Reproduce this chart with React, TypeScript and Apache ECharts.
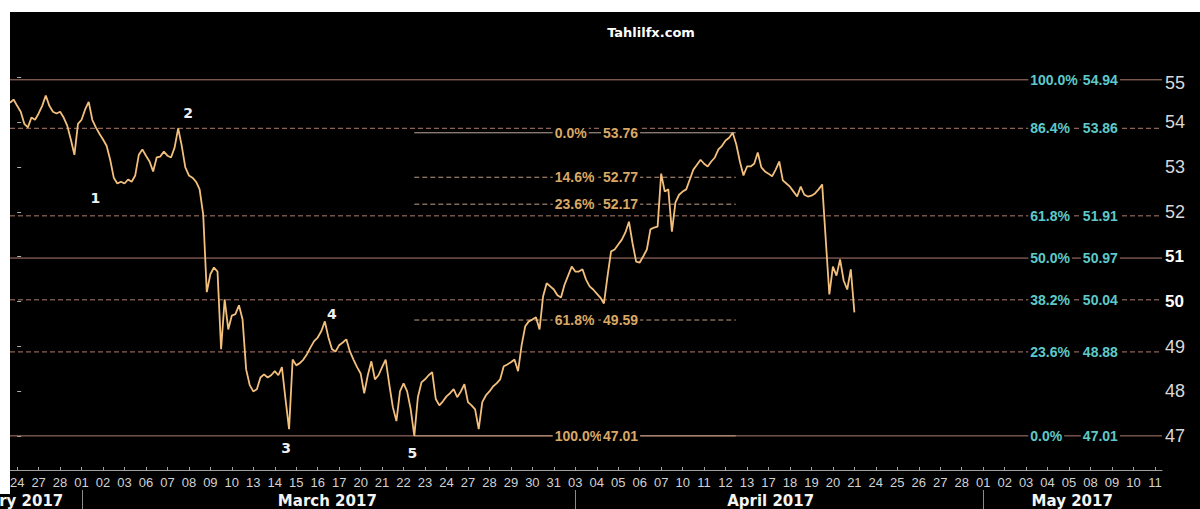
import React, { useEffect, useRef } from 'react';
import * as echarts from 'echarts';

// ---- data ----
const dayLabels = [
  '24', '27', '28',
  '01', '02', '03', '06', '07', '08', '09', '10', '13', '14', '15', '16', '17', '20', '21', '22', '23', '24', '27', '28', '29', '30', '31',
  '03', '04', '05', '06', '07', '10', '11', '12', '13', '17', '18', '19', '20', '21', '24', '25', '26', '27', '28',
  '01', '02', '03', '04', '05', '08', '09', '10', '11',
];
const monthNames = ['February 2017', 'March 2017', 'April 2017', 'May 2017'];
const monthLabelAt = [2.15, 14.45, 35.1, 49.15];
const monthStartIdx = [3, 26, 45];

const slotsPerDay = 6;
const firstSlotT = -1 / 3;
// intraday closes, 6 samples per trading day, starting 1/3 day before Feb 24
const prices = [
  54.43, 54.50, 54.36, 54.23, 53.96, 53.88, 54.10, 54.05, 54.19, 54.36, 54.59, 54.36,
  54.23, 54.19, 54.23, 54.10, 53.92, 53.61, 53.27, 53.96, 54.05, 54.28, 54.45, 54.05,
  53.88, 53.74, 53.61, 53.47, 53.16, 52.76, 52.63, 52.67, 52.63, 52.72, 52.67, 52.81,
  53.27, 53.39, 53.25, 53.12, 52.90, 53.21, 53.23, 53.34, 53.25, 53.21, 53.43, 53.86,
  53.47, 52.99, 52.81, 52.76, 52.67, 52.50, 51.94, 50.21, 50.61, 50.76, 50.67, 48.94,
  50.05, 49.38, 49.69, 49.72, 49.92, 49.60, 48.49, 48.14, 48.00, 48.05, 48.31, 48.38,
  48.31, 48.36, 48.45, 48.36, 48.54, 47.83, 47.16, 48.71, 48.58, 48.63, 48.71, 48.83,
  48.98, 49.12, 49.20, 49.34, 49.56, 49.20, 48.94, 48.89, 49.03, 49.09, 49.16, 48.89,
  48.71, 48.54, 48.40, 47.96, 48.36, 48.67, 48.27, 48.36, 48.54, 48.71, 48.16, 47.65,
  47.34, 48.00, 48.18, 48.00, 47.60, 47.01, 47.87, 48.20, 48.27, 48.36, 48.43, 47.83,
  47.69, 47.78, 47.89, 47.96, 48.05, 47.87, 48.00, 48.16, 47.76, 47.69, 47.60, 47.16,
  47.76, 47.91, 48.00, 48.11, 48.18, 48.27, 48.56, 48.60, 48.65, 48.71, 48.45, 49.03,
  49.45, 49.56, 49.60, 49.65, 49.38, 50.12, 50.41, 50.34, 50.27, 50.14, 50.09, 50.38,
  50.58, 50.78, 50.67, 50.67, 50.72, 50.49, 50.34, 50.27, 50.18, 50.09, 49.96, 50.56,
  51.12, 51.16, 51.27, 51.38, 51.54, 51.78, 51.30, 50.89, 50.87, 51.01, 51.16, 51.61,
  51.65, 51.67, 52.85, 52.45, 52.50, 51.56, 52.21, 52.38, 52.45, 52.50, 52.72, 52.94,
  53.05, 53.16, 53.07, 53.01, 53.12, 53.21, 53.39, 53.47, 53.59, 53.65, 53.76, 53.50,
  53.12, 52.81, 53.01, 53.01, 53.07, 53.32, 52.99, 52.90, 52.85, 52.79, 52.94, 53.12,
  52.70, 52.63, 52.56, 52.45, 52.34, 52.56, 52.38, 52.34, 52.36, 52.41, 52.50, 52.61,
  51.38, 50.16, 50.78, 50.58, 50.94, 50.47, 50.27, 50.72, 49.76,
];

const yTicks = [47, 48, 49, 50, 51, 52, 53, 54, 55];
const yBold = [50, 51];

const rightFibPct = ['100.0%', '86.4%', '61.8%', '50.0%', '38.2%', '23.6%', '0.0%'];
const rightFibVal = [54.94, 53.86, 51.91, 50.97, 50.04, 48.88, 47.01];
const midFibPct = ['0.0%', '14.6%', '23.6%', '61.8%', '100.0%'];
const midFibVal = [53.76, 52.77, 52.17, 49.59, 47.01];
const fibLowIdx = 113;
const fibHighIdx = 202;

const waveNames = ['1', '2', '3', '4', '5'];
const waveIdx = [30, 47, 78, 88, 113];

const titleText = 'Tahlilfx.com';

// ---- styling / layout (not data) ----
const waveLabelOffset = [[-22, 14], [10, -15], [-3, 19], [7, -7], [-2, 17]];
const rightPctT = 47.1;
const rightValT = 49.55;
const midPctT = 24.95;
const midValT = 27.2;
const X_MAX = 53.33;

const tOf = (k: number) => firstSlotT + k / slotsPerDay;
const isSolid = (pct: string) => pct === '0.0%' || pct === '50.0%' || pct === '100.0%';

function fibText(text: string, x: number, y: number, color: string) {
  return {
    type: 'text',
    x,
    y,
    style: {
      text,
      fill: color,
      font: 'bold 14px "Liberation Sans", Arial, sans-serif',
      align: 'left',
      verticalAlign: 'middle',
      backgroundColor: '#000',
      padding: [1, 2, 1, 2],
    },
  };
}

function lineStyle(color: string, solid: boolean) {
  const s: any = { stroke: color, lineWidth: 1 };
  if (!solid) s.lineDash = [5, 3];
  return s;
}

function buildOption(): any {
  const lineData = prices.map((p, k) => [tOf(k), p]);
  const tLow = tOf(fibLowIdx);
  const tHigh = tOf(fibHighIdx);
  const yFont = '"Liberation Sans", Arial, sans-serif';

  return {
    animation: false,
    backgroundColor: '#000',
    grid: { left: 10, right: 38, top: 12, bottom: 39, containLabel: false },
    xAxis: {
      type: 'value',
      min: firstSlotT,
      max: X_MAX,
      splitLine: { show: false },
      axisLine: { show: true, lineStyle: { color: '#a0a0a0', width: 1 } },
      axisTick: {
        show: true,
        customValues: dayLabels.map((_, i) => i),
        inside: true,
        length: 3,
        lineStyle: { color: '#a0a0a0' },
      },
      axisLabel: {
        customValues: dayLabels.map((_, i) => i),
        formatter: (v: number) => dayLabels[Math.round(v)] ?? '',
        color: '#d2d2d2',
        fontSize: 13,
        fontFamily: yFont,
        margin: 6,
      },
    },
    yAxis: {
      type: 'value',
      position: 'right',
      min: 46.25,
      max: 56.45,
      splitLine: { show: false },
      axisLine: { show: false },
      axisTick: {
        show: true,
        customValues: yTicks,
        length: 4,
        lineStyle: { color: '#b0b0b0' },
      },
      axisLabel: {
        customValues: yTicks,
        margin: 3,
        formatter: (v: number) =>
          yBold.includes(v) ? `{b|${v}}` : v === 55 ? `{s| }\n{n|${v}}` : `{n|${v}}`,
        rich: {
          n: { color: '#d8d8d8', fontSize: 18, lineHeight: 20, fontFamily: yFont },
          s: { fontSize: 2, lineHeight: 11 },
          b: { color: '#ffffff', fontSize: 17, fontWeight: 'bold', fontFamily: yFont },
        },
      },
    },
    series: [
      {
        type: 'custom',
        name: 'fibRight',
        silent: true,
        data: rightFibVal.map((v, i) => [i, v]),
        encode: { x: 0, y: 1 },
        renderItem: (params: any, api: any) => {
          const i = api.value(0);
          const v = api.value(1);
          const cs = params.coordSys;
          const y = api.coord([0, v])[1];
          const px = api.coord([rightPctT, v])[0];
          const vx = api.coord([rightValT, v])[0];
          return {
            type: 'group',
            children: [
              {
                type: 'line',
                shape: { x1: cs.x, y1: y, x2: cs.x + cs.width, y2: y },
                style: lineStyle('#b07e6e', isSolid(rightFibPct[i])),
              },
              fibText(rightFibPct[i], px, y, '#5ec9c9'),
              fibText(rightFibVal[i].toFixed(2), vx, y, '#5ec9c9'),
            ],
          };
        },
      },
      {
        type: 'custom',
        name: 'fibMid',
        silent: true,
        data: midFibVal.map((v, i) => [i, v]),
        encode: { x: 0, y: 1 },
        renderItem: (params: any, api: any) => {
          const i = api.value(0);
          const v = api.value(1);
          const a = api.coord([tLow, v]);
          const b = api.coord([tHigh, v]);
          const px = api.coord([midPctT, v])[0];
          const vx = api.coord([midValT, v])[0];
          return {
            type: 'group',
            children: [
              {
                type: 'line',
                shape: { x1: a[0], y1: a[1], x2: b[0] + 3, y2: b[1] },
                style: lineStyle(i === 0 ? '#b8aa98' : '#c09c80', isSolid(midFibPct[i])),
              },
              fibText(midFibPct[i], px, a[1], '#d9a865'),
              fibText(midFibVal[i].toFixed(2), vx, a[1], '#d9a865'),
            ],
          };
        },
      },
      {
        type: 'line',
        name: 'price',
        data: lineData,
        showSymbol: false,
        symbol: 'none',
        silent: true,
        lineStyle: { color: '#f2bf7c', width: 1.8 },
        z: 5,
      },
      {
        type: 'scatter',
        name: 'waves',
        silent: true,
        symbolSize: 0,
        z: 6,
        itemStyle: { color: '#f0f0f0', opacity: 0 },
        data: waveIdx.map((k, i) => ({
          value: [tOf(k), prices[k]],
          name: waveNames[i],
          label: { offset: waveLabelOffset[i] },
        })),
        label: {
          show: true,
          position: [0, 0],
          align: 'center',
          verticalAlign: 'middle',
          formatter: (p: any) => p.name,
          color: '#f0f0f0',
          opacity: 1,
          textBorderWidth: 0,
          fontSize: 14,
          fontWeight: 'bold',
          fontFamily: '"DejaVu Sans", sans-serif',
        },
      },
    ],
    graphic: [
      { id: 'wTop', type: 'rect', shape: { x: 0, y: 0, width: 1200, height: 12 }, style: { fill: '#fff' }, z: 100, silent: true },
      { id: 'wLeft', type: 'rect', shape: { x: 0, y: 0, width: 10, height: 494 }, style: { fill: '#fff' }, z: 100, silent: true },
      {
        id: 'title',
        type: 'text',
        x: 651,
        y: 32,
        style: {
          text: titleText,
          fill: '#ffffff',
          font: 'bold 13px "DejaVu Sans", sans-serif',
          align: 'center',
          verticalAlign: 'middle',
        },
        z: 100,
      },
    ],
  };
}

export default function App() {
  const ref = useRef<HTMLDivElement>(null);
  useEffect(() => {
    if (!ref.current) return;
    const chart = echarts.init(ref.current, undefined, { renderer: 'svg' });
    chart.setOption(buildOption());
    const toX = (t: number) => chart.convertToPixel({ xAxisIndex: 0 }, t) as number;
    const extra: any[] = [];
    monthNames.forEach((name, i) => {
      extra.push({
        id: 'month' + i,
        type: 'text',
        x: toX(monthLabelAt[i]),
        y: 501,
        style: {
          text: name,
          fill: '#f4f4f4',
          font: 'bold 15px "DejaVu Sans", sans-serif',
          align: i === 0 ? 'right' : 'center',
          verticalAlign: 'middle',
        },
        z: 100,
      });
    });
    monthStartIdx.forEach((d, i) => {
      const x = Math.round(toX(d)) + 0.5;
      extra.push({
        id: 'sep' + i,
        type: 'line',
        shape: { x1: x, y1: 490, x2: x, y2: 509 },
        style: { stroke: '#8a8a8a', lineWidth: 1 },
        z: 100,
      });
    });
    chart.setOption({ graphic: extra });
    return () => chart.dispose();
  }, []);
  return (
    <div
      ref={ref}
      style={{ position: 'absolute', left: 0, top: 0, width: 1200, height: 509 }}
    />
  );
}
